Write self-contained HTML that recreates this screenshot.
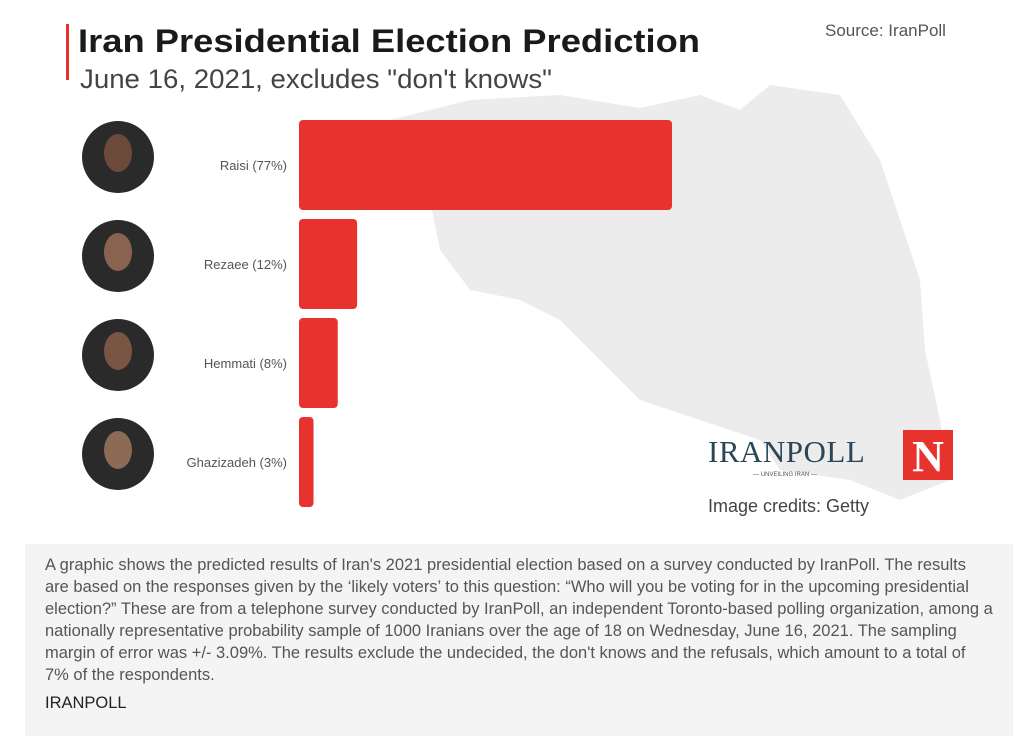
<!DOCTYPE html>
<html><head><meta charset="utf-8"><style>
body{margin:0;background:#fff;width:1036px;height:750px;position:relative;overflow:hidden;font-family:"Liberation Sans",sans-serif}
.abs{position:absolute}
.cap{position:absolute;left:25px;top:544px;width:988px;height:192px;background:#f4f4f4}
.cap div{position:absolute;left:20px;white-space:nowrap;font-family:"Liberation Sans Narrow","Liberation Sans",sans-serif;font-size:16.5px;color:#555;transform-origin:0 0}
</style></head><body>
<svg class="abs" style="left:0;top:0" width="1036" height="540">
<path fill="#ececec" d="M390,120 L470,100 L560,95 L640,108 L700,95 L740,110 L770,85 L840,95 L880,160 L900,220 L920,280 L925,350 L940,420 L950,480 L900,500 L850,480 L780,470 L760,440 L700,420 L640,400 L600,360 L560,320 L520,300 L470,290 L440,250 L430,200 Z"/>
<rect x="66" y="24" width="3" height="56" fill="#e8322e"/>
<text x="78" y="52" font-size="32" font-weight="bold" fill="#1a1a1a" textLength="622" lengthAdjust="spacingAndGlyphs">Iran Presidential Election Prediction</text>
<text x="80" y="88" font-size="27" fill="#444" textLength="472" lengthAdjust="spacingAndGlyphs">June 16, 2021, excludes "don't knows"</text>
<text x="825" y="36" font-size="17" fill="#555">Source: IranPoll</text>
<g id="bars"></g>
<text x="708" y="462" font-family="Liberation Serif" font-size="31" fill="#2b4656" letter-spacing="0.5">IRANPOLL</text>
<text x="785" y="476" font-size="6" fill="#555" text-anchor="middle">— UNVEILING IRAN —</text>
<rect x="903" y="430" width="50" height="50" fill="#e8322e"/>
<text x="928" y="471" font-family="Liberation Serif" font-weight="bold" font-size="44" fill="#fff" text-anchor="middle">N</text>
<text x="708" y="512" font-size="18" fill="#444">Image credits: Getty</text>
</svg>
<div class="cap">
<div style="top:12px">A graphic shows the predicted results of Iran's 2021 presidential election based on a survey conducted by IranPoll. The results</div>
<div style="top:34px">are based on the responses given by the ‘likely voters’ to this question: “Who will you be voting for in the upcoming presidential</div>
<div style="top:56px">election?” These are from a telephone survey conducted by IranPoll, an independent Toronto-based polling organization, among a</div>
<div style="top:78px">nationally representative probability sample of 1000 Iranians over the age of 18 on Wednesday, June 16, 2021. The sampling</div>
<div style="top:100px">margin of error was +/- 3.09%. The results exclude the undecided, the don't knows and the refusals, which amount to a total of</div>
<div style="top:122px">7% of the respondents.</div>
<div style="top:150px;color:#222">IRANPOLL</div>
</div>
<script>
const candidates=["Raisi","Rezaee","Hemmati","Ghazizadeh"];
const shares=[77,12,8,3];
const skin=["#6b4a3a","#8a6350","#7a5543","#8d6a55"];
const x0=299, pxPer=373/77, top0=120, pitch=99, bh=90;
const g=document.getElementById('bars');
const NS="http://www.w3.org/2000/svg";
candidates.forEach((c,i)=>{
  const y=top0+i*pitch;
  const r=document.createElementNS(NS,'rect');
  
  
  r.setAttribute('x',x0);r.setAttribute('y',y);
  r.setAttribute('width',shares[i]*pxPer);r.setAttribute('height',bh);
  r.setAttribute('rx',4);r.setAttribute('fill','#e8322e');
  g.appendChild(r);
  const t=document.createElementNS(NS,'text');
  
  
  t.setAttribute('x',287);t.setAttribute('y',y+bh/2+5);
  t.setAttribute('text-anchor','end');t.setAttribute('font-size','13');t.setAttribute('fill','#555');
  t.textContent=c+' ('+shares[i]+'%)';
  g.appendChild(t);
  const cx=118, cy=y+bh/2-8;
  const p=document.createElementNS(NS,'circle');
  
  
  p.setAttribute('cx',cx);p.setAttribute('cy',cy);p.setAttribute('r',36);p.setAttribute('fill','#2a2a2a');
  g.appendChild(p);
  const f=document.createElementNS(NS,'ellipse');
  f.setAttribute('cx',cx);f.setAttribute('cy',cy-4);f.setAttribute('rx',14);f.setAttribute('ry',19);f.setAttribute('fill',skin[i]);
  g.appendChild(f);
});
</script>
</body></html>
